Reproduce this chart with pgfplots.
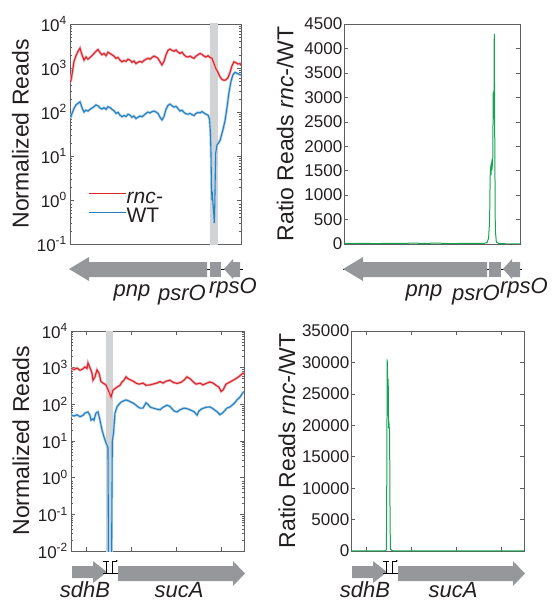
\documentclass[border=0pt]{standalone}
\usepackage{fontspec}
\setmainfont{Liberation Sans}
\usepackage{pgfplots}
\pgfplotsset{compat=1.18}
\usetikzlibrary{arrows.meta}

\definecolor{rncred}{RGB}{218,37,45}
\definecolor{wtblue}{RGB}{38,128,192}
\definecolor{ratiogreen}{RGB}{20,165,80}
\definecolor{bandgray}{RGB}{210,211,213}
\definecolor{genegray}{RGB}{150,151,155}
\definecolor{axgray}{RGB}{95,95,95}
\definecolor{txt}{RGB}{35,31,32}

\newcommand{\ticksize}{\fontsize{17}{17}\selectfont}
\newcommand{\labsize}{\fontsize{23}{23}\selectfont}
\newcommand{\legsize}{\fontsize{21}{21}\selectfont}
\newcommand{\genesize}{\fontsize{22}{22}\selectfont\itshape}

\pgfplotsset{
  panel/.style={
    scale only axis,
    anchor=north west,
    height=220pt,
    axis line style={axgray, line width=0.7pt},
    tick style={axgray, line width=0.5pt},
    major tick length=4pt,
    minor tick length=2pt,
    tick label style={font=\ticksize, text=txt},
    label style={font=\labsize, text=txt},
    /pgf/number format/assume math mode=true,
    /pgf/number format/1000 sep={},
    scaled y ticks=false,
  },
  halo/.style={#1!35, line width=2.6pt, forget plot},
}

% read counts, top region (position, reads)
\def\topred{(0,479) (1,525) (2,708) (3,1000) (4,1413) (6,1905) (8,2399) (10,2818) (12,1995) (14,1514) (16,1778) (18,1585) (20,1738) (22,1905) (24,2138) (26,2399) (28,2630) (30,2239) (32,1995) (34,2138) (36,1905) (38,2291) (40,2138) (42,1995) (44,1862) (46,1660) (48,1738) (50,1514) (52,1380) (54,1479) (56,1413) (58,1585) (60,1514) (62,1349) (64,1445) (66,1259) (68,1349) (70,1413) (72,1349) (74,1479) (76,1585) (78,1660) (80,1585) (82,1738) (84,1862) (86,1778) (88,1660) (90,1380) (92,1175) (94,1413) (96,1995) (98,2512) (100,2692) (102,2512) (104,2399) (106,2570) (108,2291) (110,2138) (112,2291) (114,1995) (116,1820) (118,1778) (120,1862) (122,1738) (124,1660) (126,1862) (128,1995) (130,2138) (132,2042) (134,1862) (136,1778) (138,1905) (140,1738) (142,1660) (144,1259) (146,955) (148,794) (150,631) (152,550) (154,525) (156,537) (158,603) (160,794) (162,1122) (164,1380) (166,1318) (168,1230) (170,1259) (171,1148)}
\def\topblue{(0,85) (1,79) (2,93) (4,120) (6,145) (8,158) (10,170) (12,126) (14,100) (16,110) (18,105) (20,115) (22,123) (24,132) (26,145) (28,138) (30,123) (32,117) (34,126) (36,115) (38,132) (40,126) (42,115) (44,107) (46,93) (48,98) (50,85) (52,78) (54,83) (56,79) (58,89) (60,85) (62,76) (64,81) (66,71) (68,76) (70,81) (72,78) (74,85) (76,93) (78,100) (80,95) (82,102) (84,105) (86,100) (88,93) (90,76) (92,66) (94,79) (96,115) (98,141) (100,151) (102,138) (104,129) (106,135) (108,120) (110,105) (112,110) (114,98) (116,91) (118,89) (120,93) (122,87) (124,83) (126,93) (128,98) (130,95) (132,102) (134,95) (136,89) (138,85) (139.5,70) (140.5,32) (141,11) (141.5,2) (142,1.0) (142.5,1.2) (143,0.8) (143.5,0.6) (144,0.4) (144.3,0.3) (144.8,0.8) (145.3,4) (145.7,11.7) (147,17.8) (150,22.4) (153,40) (155,63) (157,126) (159,282) (161,501) (163,708) (165,794) (167,759) (169,724) (171,692)}
% read counts, bottom region
\def\botred{(0,955) (3,891) (6,977) (9,851) (12,933) (14,1047) (16,955) (17,1349) (19,1000) (21,708) (22,457) (24,562) (26,871) (28,708) (30,417) (32,380) (35,339) (38,219) (40,158) (42,245) (44,269) (46,295) (49,331) (51,407) (53,457) (55,562) (57,501) (60,457) (63,417) (65,380) (68,355) (72,380) (75,331) (79,339) (83,363) (86,380) (89,417) (92,380) (95,427) (99,457) (102,398) (106,372) (110,398) (113,457) (116,562) (119,501) (122,417) (125,355) (129,380) (132,339) (136,380) (139,407) (142,380) (145,331) (148,295) (150,224) (152,245) (155,355) (159,407) (163,468) (166,525) (169,603) (172,708) (173,661)}
\def\botblue{(0,51) (3,48) (6,52) (9,46) (12,50) (14,58) (17,62) (19,50) (20,37) (22,40) (23,37) (25,58) (27,62) (29,37) (31,20) (33,12.9) (35,8.9) (36.5,7.1) (37,6.5) (37.6,0.001) (40.4,0.001) (41.3,10) (42.5,16.6) (44,58) (46,85) (48,100) (50,115) (53,126) (55,132) (58,123) (60,115) (63,105) (65,95) (67,85) (69,79) (72,79) (75,110) (77,100) (79,85) (82,79) (86,74) (89,71) (92,83) (96,95) (99,87) (103,66) (106,62) (109,71) (113,79) (116,76) (119,71) (123,63) (126,51) (128,66) (131,76) (135,83) (139,85) (142,76) (146,63) (149,52) (152,60) (156,79) (159,85) (163,105) (166,132) (169,158) (172,209) (173,224)}

\begin{document}
\begin{tikzpicture}
\path[use as bounding box] (0pt,0pt) rectangle (553pt,-602pt);

% top left: pnp / psrO / rpsO region
\begin{axis}[panel, ymode=log,
  at={(70pt,-24pt)}, width=171pt,
  xmin=0, xmax=171, ymin=0.1, ymax=1e4,
  xtick=\empty,
  ytick={0.1,1,10,100,1000,10000},
  yticklabels={10\textsuperscript{-1},10\textsuperscript{0},10\textsuperscript{1},10\textsuperscript{2},10\textsuperscript{3},10\textsuperscript{4}},
  minor ytick={0.2,0.3,...,0.9,2,3,...,9,20,30,...,90,200,300,...,900,2000,3000,...,9000},
  yticklabel style={inner sep=3pt},
  ylabel={Normalized Reads},
  ylabel style={at={(axis description cs:-0.29,0.5)}, anchor=center},
  legend style={at={(axis description cs:0.105,0.255)}, anchor=north west,
    draw=none, fill=none, inner sep=0pt, font=\legsize, text=txt,
    nodes={inner sep=0.5pt, text height=15pt, text depth=1pt}, row sep=2pt},
  legend cell align=left,
  legend image code/.code={\draw[#1, line width=1pt] (0pt,0.33em) -- (37pt,0.33em);},
]
\fill[bandgray] (axis cs:140,1e-3) rectangle (axis cs:148,1e5);
\addplot[halo=rncred] coordinates \topred;
\addplot[halo=wtblue] coordinates \topblue;
\addplot[rncred, line width=1.1pt] coordinates \topred;
\addlegendentry{\textit{rnc-}}
\addplot[wtblue, line width=1.1pt] coordinates \topblue;
\addlegendentry{WT}
\end{axis}

% top right: ratio
\begin{axis}[panel,
  at={(344pt,-24pt)}, width=176pt,
  xmin=0, xmax=171, ymin=0, ymax=4500,
  xtick=\empty,
  ytick={0,500,...,4500},
  yticklabel style={inner sep=1.5pt},
  ylabel={Ratio Reads \textit{rnc-}/WT},
  ylabel style={at={(axis description cs:-0.335,0.5)}, anchor=center},
]
\addplot[ratiogreen, line width=1pt] coordinates {(0,12) (10,10) (20,12) (30,9) (40,11) (50,14) (60,15) (70,16) (80,12) (90,20) (100,9) (110,10) (120,12) (130,11) (136,13) (139,30) (140.5,120) (141.5,500) (142,1380) (142.5,1550) (143,1480) (143.5,1650) (144,1580) (144.5,1700) (145,3100) (145.4,2550) (145.7,3000) (146,4300) (146.5,2000) (147,300) (148,40) (150,15) (155,6) (160,3) (165,2) (171,2)};
\end{axis}

% bottom left: sdhB / sucA region
\begin{axis}[panel, ymode=log,
  at={(71pt,-331pt)}, width=173pt,
  xmin=0, xmax=173, ymin=0.01, ymax=1e4,
  xtick={15,60,105,150}, xticklabels={},
  ytick={0.01,0.1,1,10,100,1000,10000},
  yticklabels={10\textsuperscript{-2},10\textsuperscript{-1},10\textsuperscript{0},10\textsuperscript{1},10\textsuperscript{2},10\textsuperscript{3},10\textsuperscript{4}},
  minor ytick={0.02,0.03,...,0.09,0.2,0.3,...,0.9,2,3,...,9,20,30,...,90,200,300,...,900,2000,3000,...,9000},
  yticklabel style={inner sep=3pt},
  ylabel={Normalized Reads},
  ylabel style={at={(axis description cs:-0.29,0.5)}, anchor=center},
]
\fill[bandgray] (axis cs:35,1e-4) rectangle (axis cs:42,1e5);
\addplot[halo=rncred] coordinates \botred;
\addplot[halo=wtblue] coordinates \botblue;
\addplot[rncred, line width=1.1pt] coordinates \botred;
\addplot[wtblue, line width=1.1pt] coordinates \botblue;
\end{axis}

% bottom right: ratio
\begin{axis}[panel,
  at={(351pt,-331pt)}, width=173pt,
  xmin=0, xmax=173, ymin=0, ymax=35000,
  xtick={15,60,105,150}, xticklabels={},
  ytick={0,5000,...,35000},
  yticklabel style={inner sep=1.5pt},
  ylabel={Ratio Reads \textit{rnc-}/WT},
  ylabel style={at={(axis description cs:-0.37,0.5)}, anchor=center},
]
\addplot[ratiogreen, line width=1pt] coordinates {(0,10) (20,12) (30,15) (34,30) (35.4,200) (35.8,12000) (36.2,30500) (36.7,27500) (37.2,27200) (37.6,19500) (38.1,20000) (38.6,18800) (39.1,4000) (39.5,300) (41,50) (45,12) (60,8) (100,6) (150,5) (173,5)};
\end{axis}

% gene maps
\begin{scope}[x=1pt, y=-1pt]
  % top left
  \draw[black, line width=0.6pt] (205,269) -- (243,269);
  \fill[genegray] (69,269) -- (89,257) -- (89,262) -- (207,262) -- (207,277) -- (89,277) -- (89,281) -- cycle;
  \fill[genegray] (210,262) rectangle (221,277);
  \fill[genegray] (224,269) -- (233,259) -- (233,262) -- (240,262) -- (240,277) -- (233,277) -- (233,279) -- cycle;
  \node[anchor=base, font=\genesize, text=txt] at (132,296) {pnp};
  \node[anchor=base, font=\genesize, text=txt] at (182,300) {psrO};
  \node[anchor=base, font=\genesize, text=txt] at (233,293) {rpsO};
  % top right
  \draw[black, line width=0.6pt] (343,269) -- (522,269);
  \fill[genegray] (343,269) -- (363,257) -- (363,262) -- (487,262) -- (487,277) -- (363,277) -- (363,281) -- cycle;
  \fill[genegray] (489,262) rectangle (501,277);
  \fill[genegray] (503,269) -- (512,259) -- (512,262) -- (520,262) -- (520,277) -- (512,277) -- (512,279) -- cycle;
  \node[anchor=base, font=\genesize, text=txt] at (424,296) {pnp};
  \node[anchor=base, font=\genesize, text=txt] at (476,300) {psrO};
  \node[anchor=base, font=\genesize, text=txt] at (524,293) {rpsO};
  % bottom left
  \fill[genegray] (72,566) -- (93,566) -- (93,561) -- (107,572) -- (93,583) -- (93,578) -- (72,578) -- cycle;
  \draw[black, line width=0.5pt] (103,573) -- (118,573)
    (106,573) -- (106,561) (103,561) -- (109,561);
  \draw[black, line width=0.5pt, -{Latex[length=2pt,width=2pt]}] (112,573) -- (112,561) -- (118,561);
  \fill[genegray] (118,566) -- (233,566) -- (233,561) -- (245,573.5) -- (233,586) -- (233,581) -- (118,581) -- cycle;
  \node[anchor=base, font=\genesize, text=txt] at (85,597) {sdhB};
  \node[anchor=base, font=\genesize, text=txt] at (179,597) {sucA};
  % bottom right
  \fill[genegray] (352,566) -- (373,566) -- (373,561) -- (387,572) -- (373,583) -- (373,578) -- (352,578) -- cycle;
  \draw[black, line width=0.5pt] (383,573) -- (398,573)
    (386,573) -- (386,561) (383,561) -- (389,561);
  \draw[black, line width=0.5pt, -{Latex[length=2pt,width=2pt]}] (392,573) -- (392,561) -- (398,561);
  \fill[genegray] (398,566) -- (513,566) -- (513,561) -- (525,573.5) -- (513,586) -- (513,581) -- (398,581) -- cycle;
  \node[anchor=base, font=\genesize, text=txt] at (365,597) {sdhB};
  \node[anchor=base, font=\genesize, text=txt] at (453,597) {sucA};
\end{scope}
\end{tikzpicture}
\end{document}
